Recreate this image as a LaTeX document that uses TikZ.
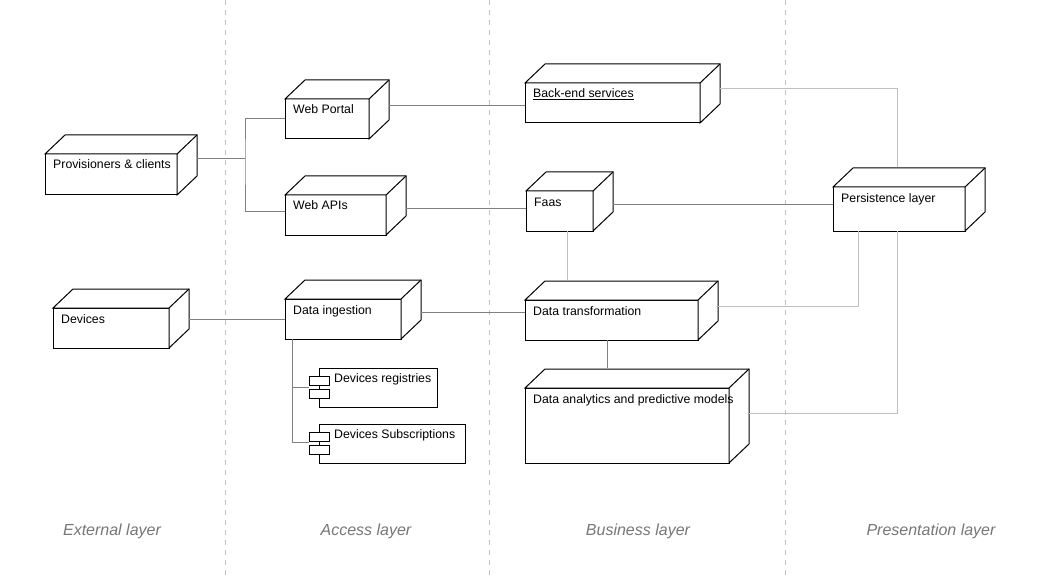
\documentclass[tikz,border=0pt]{standalone}
\usepackage{fontspec}
\setmainfont{Liberation Sans}
\usepackage{tikz}
\usetikzlibrary{calc}
\definecolor{linkdark}{HTML}{808080}
\definecolor{linklight}{HTML}{C0C0C0}
\definecolor{sepgray}{HTML}{C0C0C0}
\definecolor{layergray}{HTML}{777777}
\tikzset{
	nodebox/.style={draw=black, fill=white, line width=1pt, anchor=north west, inner sep=0pt, outer sep=0pt},
	boxline/.style={draw=black, line width=1pt, line join=miter},
	boxtext/.style={anchor=base west, inner sep=0pt, font=\fontsize{12.3}{14}\selectfont},
	linkd/.style={draw=linkdark, line width=1pt},
	linkl/.style={draw=linklight, line width=1pt},
	sepline/.style={draw=sepgray, line width=1pt, dash pattern=on 5pt off 5pt},
	layertext/.style={text=layergray, font=\fontsize{16}{18}\selectfont\itshape}
}
\newcommand{\DeployNode}[6]{
	\def\dname{#1}
	\def\dwid{#4}
	\def\dhgt{#5}
	\node[nodebox, minimum width=\dwid pt, minimum height=\dhgt pt] (\dname) at (#2,#3) {};
	\filldraw[boxline, fill=white] (\dname.north west) -- ++(20,-19) -- ($(\dname.north east)+(20,-19)$) -- ($(\dname.south east)+(20,-19)$) -- (\dname.south east) -- (\dname.north east) -- cycle;
	\draw[boxline] (\dname.north east) -- ++(20,-19);
	\node[boxtext] (\dname-text) at ($(\dname.north west)+(8,15)$) {#6};
}
\newcommand{\CompNode}[6]{
	\def\cname{#1}
	\node[nodebox, minimum width=#4pt, minimum height=#5pt] (\cname) at (#2,#3) {};
	\filldraw[boxline, fill=white] ($(\cname.west)+(-10,-11.5)$) rectangle ++(20,9);
	\filldraw[boxline, fill=white] ($(\cname.west)+(-10,1.5)$) rectangle ++(20,9);
	\node[boxtext] (\cname-text) at ($(\cname.north west)+(15,14)$) {#6};
}

\begin{document}
\begin{tikzpicture}[x=1pt, y=-1pt, line cap=butt]

  \useasboundingbox[fill=white] (0,0) rectangle (1042,575);

  % layer separators
  \foreach \sx in {225,489,785}
    \draw[sepline] (\sx,0) -- (\sx,575);

  \node[layertext] (extlayer) at (112,531) {External layer};
  \node[layertext] (acclayer) at (366,531) {Access layer};
  \node[layertext] (buslayer) at (638,531) {Business layer};
  \node[layertext] (prelayer) at (931,531) {Presentation layer};

  % nodes
  \DeployNode{prov}{45}{154}{132}{41}{Provisioners \& clients}
  \DeployNode{devices}{53}{308}{116}{40}{Devices}
  \DeployNode{webportal}{285}{99}{84}{40}{Web Portal}
  \DeployNode{webapis}{285}{195}{101}{40}{Web APIs}
  \DeployNode{ingest}{285}{299}{116}{40}{Data ingestion}
  \DeployNode{backend}{525}{83}{175}{40}{\underline{Back-end services}}
  \DeployNode{faas}{526}{191}{67}{40}{Faas}
  \DeployNode{transform}{525}{300}{173}{40}{Data transformation}
  \DeployNode{analytics}{525}{388}{204}{75}{Data analytics and predictive models}
  \DeployNode{persist}{833}{187}{132}{44}{Persistence layer}
  \CompNode{registries}{319}{368}{118}{39}{Devices registries}
  \CompNode{subscr}{319}{424}{146}{39}{Devices Subscriptions}

  % connectors
  \coordinate (fork) at (245,159);
  \draw[linkd] ($(prov.north east)+(20,5)$) -- (fork);
  \draw[linkd] (webportal.west) -| (fork) |- ($(webapis.west)+(0,-4)$);
  \draw[linkd] (ingest.west) -- ($(devices.east |- ingest.west)+(20,0)$);
  \draw[linkd] ($(backend.west)+(0,3)$) -- ($(webportal.east |- backend.west)+(20,3)$);
  \draw[linkd] ($(faas.west)+(0,-3)$) -- ($(webapis.east |- faas.west)+(20,-3)$);
  \draw[linkd] ($(persist.west)+(0,-5)$) -- ($(faas.east |- persist.west)+(20,-5)$);
  \draw[linkd] ($(transform.west)+(0,-8)$) -- ($(ingest.east |- transform.west)+(20,-8)$);
  \draw[linkd] ($(transform.south)+(-4,0)$) -- ($(transform.south |- analytics.north)+(-4,-20)$);
  \draw[linkd] ($(ingest.south west)+(7,0)$) |- ($(registries.west)+(-10,0)$);
  \draw[linkd] ($(ingest.south west)+(7,0)$) |- ($(subscr.west)+(-10,-1)$);
  \draw[linkl] ($(backend.east)+(20,-14)$) -| ($(persist.north)+(-2,-20)$);
  \draw[linkl] ($(faas.south)+(8,0)$) -- ($(faas.south |- transform.north)+(8,-20)$);
  \draw[linkl] ($(transform.east)+(20,-14)$) -| ($(persist.south)+(-41,0)$);
  \draw[linkl] ($(analytics.east)+(20,-12)$) -| ($(persist.south)+(-2,0)$);

\end{tikzpicture}
\end{document}
